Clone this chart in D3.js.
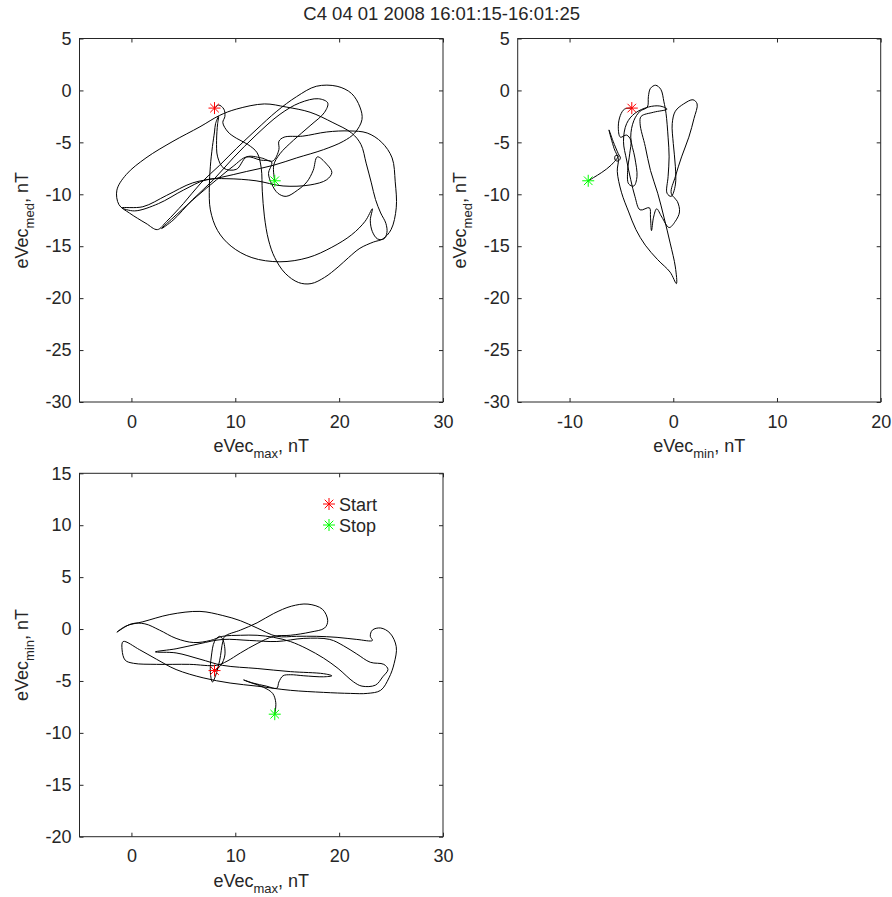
<!DOCTYPE html>
<html><head><meta charset="utf-8">
<script src="https://cdn.jsdelivr.net/npm/d3@7"></script>
<style>
body{margin:0;background:#fff}
text{font-family:"Liberation Sans",Arial,Helvetica,sans-serif;fill:#262626}
</style>
</head><body>
<svg id="chart" width="892" height="897"></svg>
<script>
const titleText = "C4 04 01 2008 16:01:15-16:01:25";

// Hodogram traces, [x, y] in nT
const hodoMaxMed = [ // x: eVec_max, y: eVec_med
[8.0,-1.7],[8.4,-1.4],[8.9,-1.8],[9.0,-2.5],[8.8,-3.1],
[9.3,-4.0],[10.1,-4.6],[11.2,-5.2],[12.1,-6.0],[12.5,-7.5],[12.6,-9.7],[12.8,-12.1],[13.2,-14.4],[13.8,-16.1],[14.8,-17.6],[16.1,-18.5],[17.3,-18.6],[18.6,-18.0],[19.9,-17.0],[20.9,-16.1],[22.0,-15.2],[23.3,-14.6],[24.2,-14.3],[25.0,-13.4],[25.5,-11.3],[25.4,-8.8],[25.1,-6.5],[24.1,-5.0],[22.7,-4.1],[21.0,-3.9],[18.8,-4.0],[16.5,-4.4],[14.7,-4.5],[14.2,-4.9],[14.2,-5.7],[13.6,-6.8],[12.5,-6.5],[11.1,-6.4],
[10.1,-7.6],[8.9,-7.5],[8.3,-6.4],[8.2,-4.8],[8.3,-3.2],[8.4,-2.5],
[8.1,-3.2],[8.0,-4.0],[7.8,-5.4],[7.6,-7.3],[7.5,-9.3],[7.6,-11.5],[8.3,-13.5],[9.6,-15.0],[11.6,-16.1],[14.3,-16.5],[17.0,-16.1],[19.3,-15.1],[21.2,-13.9],[22.5,-12.6],[23.2,-11.4],
[23.0,-12.5],[23.2,-13.6],[23.7,-14.3],[24.3,-14.3],[24.6,-13.7],[24.5,-12.8],[24.0,-11.8],[23.5,-10.5],[23.1,-8.9],[22.6,-7.0],[22.1,-5.2],[21.2,-4.1],
[19.4,-3.1],[17.2,-2.1],[14.9,-1.6],[12.8,-1.3],[10.1,-1.8],[8.5,-2.4],[6.6,-3.5],[4.0,-4.9],[1.4,-6.5],[-0.5,-8.1],[-1.4,-9.6],[-1.2,-11.0],[-0.2,-11.8],[1.4,-12.8],[2.5,-13.4],
[3.4,-12.6],[5.0,-10.9],[6.7,-8.9],[8.5,-7.2],[10.1,-5.6],[12.0,-3.8],[14.0,-2.0],[15.9,-0.6],[17.8,0.4],[19.8,0.4],[21.2,-0.3],[22.0,-1.6],[22.2,-2.8],[21.5,-4.1],[20.4,-4.9],[18.5,-5.7],[15.9,-6.5],[13.7,-7.2],[11.1,-7.8],[8.5,-8.4],[5.9,-8.9],[3.4,-10.1],[1.1,-11.2],[-0.9,-11.3],
[0.3,-11.6],[2.6,-10.9],[5.0,-9.6],[7.2,-8.6],[9.2,-8.5],[12.0,-8.7],[14.6,-9.2],[17.2,-9.1],[18.8,-8.6],[19.3,-7.9],[18.8,-7.1],[17.9,-6.4],[17.5,-7.7],[16.9,-8.8],[16.0,-9.6],[14.9,-10.2],[14.1,-9.9],[13.5,-9.0],[13.2,-8.0],[13.5,-6.9],[12.4,-6.7],[11.1,-6.4],[9.8,-7.3],[8.2,-8.6],[6.3,-10.2],[4.3,-12.0],[2.9,-13.3],
[4.0,-12.5],[5.9,-10.5],[7.9,-8.6],[9.8,-6.5],[12.0,-4.3],[14.3,-2.3],[16.2,-1.2],[18.0,-0.8],[18.9,-1.2],[18.6,-2.1],[17.2,-3.4],[15.6,-4.8],[14.3,-6.1],[13.7,-7.2],[13.8,-8.7]
];

const hodoMinMed = [ // x: eVec_min, y: eVec_med
[-4.0,-1.7],[-4.7,-1.8],[-5.1,-2.4],[-5.3,-3.5],[-5.1,-4.5],[-4.5,-4.3],[-4.1,-4.8],[-4.2,-6.1],[-4.4,-7.7],[-4.3,-9.0],[-3.8,-9.2],[-3.5,-8.3],[-3.7,-6.5],[-4.1,-4.5],[-3.8,-2.9],[-3.2,-2.0],[-2.5,-1.6],[-2.4,-0.6],[-2.2,0.2],[-1.7,0.5],[-1.2,0.1],[-0.9,-1.1],[-0.7,-2.2],[-0.5,-4.5],[-0.4,-6.4],[-0.5,-8.3],[-0.6,-9.9],[-0.2,-10.2],[0.2,-9.1],[0.2,-7.3],[0.0,-5.1],[-0.1,-3.2],[0.2,-2.0],[1.0,-1.3],[1.9,-0.9],[2.3,-1.3],[2.0,-2.7],[1.5,-4.5],[0.8,-6.4],[0.2,-8.3],[-0.2,-9.9],[0.4,-10.7],[0.6,-11.7],[0.2,-12.6],[-0.4,-13.2],[-1.1,-12.2],[-1.6,-11.4],[-1.9,-12.2],[-2.1,-13.5],[-2.2,-12.2],[-2.3,-11.3],[-3.2,-11.5],[-3.7,-10.2],[-4.1,-8.6],[-4.5,-6.7],[-4.8,-4.9],[-4.5,-3.2],[-3.7,-2.2],[-2.4,-1.6],[-1.3,-1.5],[-0.6,-1.8],[-1.9,-2.1],[-3.1,-2.5],[-3.2,-3.2],[-2.7,-5.4],[-2.2,-7.7],[-1.5,-9.9],[-0.9,-12.2],[-0.3,-14.7],[0.2,-17.0],[0.3,-18.6],[-0.3,-17.5],[-1.5,-16.3],[-2.7,-14.9],[-3.6,-13.4],[-4.3,-11.7],[-5.0,-9.8],[-5.4,-7.8],[-5.3,-6.6],[-5.7,-5.6],[-6.2,-3.8],[-5.8,-4.9],[-5.3,-6.1],[-5.1,-6.5],[-5.3,-6.8],[-5.6,-6.7],[-5.6,-6.3],[-5.3,-6.3],[-6.0,-7.2],[-6.9,-7.9],[-7.7,-8.4],[-8.2,-8.7]
];

const hodoMaxMin = [ // x: eVec_max, y: eVec_min
[8.0,-4.0],[8.6,-3.5],[9.0,-2.5],[8.8,-1.0],[8.5,-0.7],[8.0,-1.2],[7.7,-2.6],[7.6,-4.2],[7.8,-5.1],[8.1,-4.5],[8.5,-3.0],[8.8,-1.2],[9.0,-0.7],
[10.5,-0.1],[12.1,0.6],[13.7,1.5],[15.4,2.2],[17.0,2.4],[18.4,1.9],[18.9,0.8],[18.6,0.1],[17.2,-0.3],[15.3,-0.6],[13.7,-0.7],
[12.1,-1.4],[10.5,-2.3],[9.2,-3.1],[8.2,-3.5],[5.6,-3.4],[2.4,-3.4],[0.2,-3.3],[-0.6,-3.0],[-0.9,-2.0],[-0.8,-1.2],
[0.8,-2.0],[2.4,-2.9],[4.3,-3.9],[6.9,-4.7],[9.5,-5.2],[12.1,-5.5],[15.3,-5.9],[18.5,-6.1],[21.1,-6.2],[22.7,-6.2],[24.0,-5.9],[24.8,-4.7],[25.3,-3.3],[25.5,-1.7],[24.9,-0.4],[24.0,0.1],[23.2,-0.1],[23.0,-0.7],[23.2,-1.1],
[21.7,-1.0],[19.8,-0.8],[17.8,-0.7],[15.9,-0.7],[14.0,-0.7],[12.1,0.1],[10.5,0.8],[8.8,1.3],[6.6,1.7],[3.7,1.4],[1.1,0.7],[-0.5,0.3],[-1.4,-0.3],
[0.0,0.5],[1.3,0.5],[2.7,-0.1],[4.3,-0.9],[6.0,-1.3],[7.6,-1.1],[8.8,-0.7],
[10.5,-0.6],[12.1,-0.6],[13.7,-0.8],[15.3,-1.2],[16.9,-1.9],[18.5,-2.8],[19.9,-3.8],[21.4,-5.1],[22.2,-5.5],[23.5,-5.4],[24.2,-4.6],[24.7,-3.9],[24.3,-3.4],[23.0,-3.2],[21.7,-2.4],[20.4,-1.6],[19.1,-1.0],
[16.6,-0.9],[14.0,-1.2],[11.4,-1.1],[8.8,-1.0],[6.6,-1.4],[4.3,-1.9],[2.3,-2.2],
[4.3,-2.3],[6.6,-2.9],[8.8,-3.5],[12.1,-3.8],[15.3,-4.1],[18.5,-4.3],[19.3,-4.5],[18.5,-4.6],[16.6,-4.5],[15.3,-4.4],[14.6,-4.5],[14.2,-5.1],[14.0,-5.7],[13.0,-5.5],[11.7,-5.2],[10.8,-4.9],[11.3,-5.1],[12.7,-5.6],[13.6,-6.2],[13.9,-7.1],[13.8,-8.2]
];

const startPoint = {max: 8.0, med: -1.7, min: -4.0};
const stopPoint  = {max: 13.8, med: -8.7, min: -8.2};

const maxDomain = [-5, 30], maxTicks = [0, 10, 20, 30];
const minDomain = [-15, 20], minTicks = [-10, 0, 10, 20];
const medDomain = [-30, 5], medTicks = [5, 0, -5, -10, -15, -20, -25, -30];
const minYDomain = [-20, 15], minYTicks = [15, 10, 5, 0, -5, -10, -15, -20];
const legendLabels = ["Start", "Stop"];
const startColor = "#ff0000", stopColor = "#00ff00";

const svg = d3.select("#chart");
const axisColor = "#262626";
const FS = 18;
const fmt = d => String(d); // plain hyphen-minus like the reference

svg.append("text").attr("x", 441.7).attr("y", 20).attr("text-anchor", "middle")
  .attr("font-size", 18.5).text(titleText);

const star = "M-6,0H6M0,-6V6M-4.3,-4.3L4.3,4.3M-4.3,4.3L4.3,-4.3";

function panel(o) {
  const x = d3.scaleLinear().domain(o.xDomain).range([o.left, o.right]);
  const y = d3.scaleLinear().domain(o.yDomain).range([o.bottom, o.top]);
  const g = svg.append("g");
  const styleAxis = sel => {
    sel.select(".domain").remove();
    sel.selectAll("line").attr("stroke", axisColor);
    sel.selectAll("text").attr("font-size", FS).attr("fill", axisColor)
      .style("font-family", '"Liberation Sans",Arial,sans-serif');
  };
  g.append("g").attr("transform", `translate(0,${o.bottom})`)
    .call(d3.axisBottom(x).tickValues(o.xTicks).tickFormat(fmt).tickSizeInner(-4).tickSizeOuter(0).tickPadding(13))
    .call(styleAxis);
  g.append("g").attr("transform", `translate(0,${o.top})`)
    .call(d3.axisTop(x).tickValues(o.xTicks).tickSizeInner(-4).tickSizeOuter(0).tickFormat(""))
    .call(styleAxis);
  g.append("g").attr("transform", `translate(${o.left},0)`)
    .call(d3.axisLeft(y).tickValues(o.yTicks).tickFormat(fmt).tickSizeInner(-4).tickSizeOuter(0).tickPadding(8))
    .call(styleAxis);
  g.append("g").attr("transform", `translate(${o.right},0)`)
    .call(d3.axisRight(y).tickValues(o.yTicks).tickSizeInner(-4).tickSizeOuter(0).tickFormat(""))
    .call(styleAxis);
  g.selectAll(".tick text").filter(function(){ return this.textContent === ""; }).remove();

  const line = d3.line().x(d => x(d[0])).y(d => y(d[1])).curve(d3.curveCatmullRom.alpha(0.5));
  g.append("path").datum(o.data).attr("d", line)
    .attr("fill", "none").attr("stroke", "#000").attr("stroke-width", 1).attr("stroke-linejoin", "round");

  g.append("path").attr("d", star).attr("transform", `translate(${x(o.start[0])},${y(o.start[1])})`)
    .attr("stroke", startColor).attr("stroke-width", 1).attr("fill", "none");
  g.append("path").attr("d", star).attr("transform", `translate(${x(o.stop[0])},${y(o.stop[1])})`)
    .attr("stroke", stopColor).attr("stroke-width", 1).attr("fill", "none");

  g.append("rect").attr("x", o.left).attr("y", o.top).attr("width", o.right - o.left)
    .attr("height", o.bottom - o.top).attr("fill", "none").attr("stroke", axisColor).attr("stroke-width", 1);

  // x label
  const xl = g.append("text").attr("x", (o.left + o.right) / 2).attr("y", o.bottom + 50)
    .attr("text-anchor", "middle").attr("font-size", FS);
  xl.append("tspan").text("eVec");
  xl.append("tspan").attr("font-size", 13).attr("dy", 6).text(o.xSub);
  xl.append("tspan").attr("dy", -6).text(", nT");
  // y label
  const cy = (o.top + o.bottom) / 2;
  const yl = g.append("text").attr("transform", `translate(${o.left - 51.5},${cy}) rotate(-90)`)
    .attr("text-anchor", "middle").attr("font-size", FS);
  yl.append("tspan").text("eVec");
  yl.append("tspan").attr("font-size", 13).attr("dy", 6).text(o.ySub);
  yl.append("tspan").attr("dy", -6).text(", nT");
  return {g, x, y};
}

panel({left: 79.5, right: 443, top: 38.5, bottom: 402, xDomain: maxDomain, yDomain: medDomain,
  xTicks: maxTicks, yTicks: medTicks, data: hodoMaxMed, xSub: "max", ySub: "med",
  start: [startPoint.max, startPoint.med], stop: [stopPoint.max, stopPoint.med]});
panel({left: 517.7, right: 880.7, top: 38.5, bottom: 402, xDomain: minDomain, yDomain: medDomain,
  xTicks: minTicks, yTicks: medTicks, data: hodoMinMed, xSub: "min", ySub: "med",
  start: [startPoint.min, startPoint.med], stop: [stopPoint.min, stopPoint.med]});
const p3 = panel({left: 79.5, right: 443, top: 473.3, bottom: 836.7, xDomain: maxDomain, yDomain: minYDomain,
  xTicks: maxTicks, yTicks: minYTicks, data: hodoMaxMin, xSub: "max", ySub: "min",
  start: [startPoint.max, startPoint.min], stop: [stopPoint.max, stopPoint.min]});

// legend (no box)
const lg = p3.g.append("g").attr("transform", "translate(329,504)");
[startColor, stopColor].forEach((c, i) => {
  lg.append("path").attr("d", star).attr("transform", `translate(0,${i * 21})`)
    .attr("stroke", c).attr("stroke-width", 1).attr("fill", "none");
  lg.append("text").attr("x", 10).attr("y", i * 21 + 6.5).attr("font-size", FS)
    .attr("fill", "#000").text(legendLabels[i]);
});
</script>
</body></html>
